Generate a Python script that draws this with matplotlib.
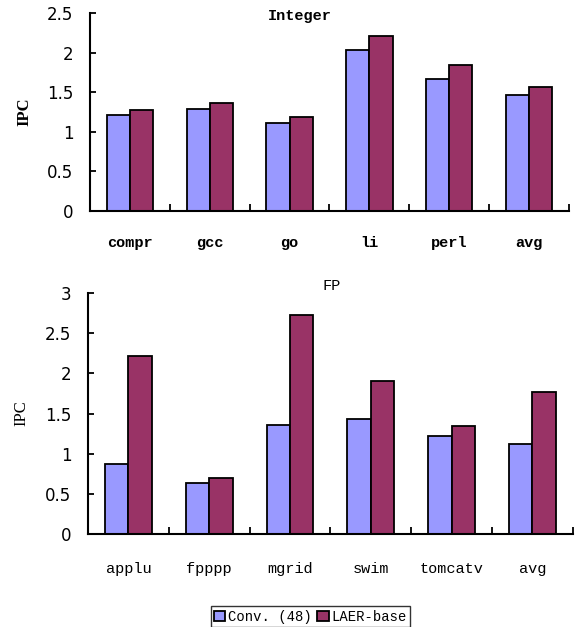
import matplotlib
matplotlib.use("Agg")
import matplotlib.pyplot as plt
import numpy as np

# integer benchmarks
int_names = ["compr", "gcc", "go", "li", "perl", "avg"]
int_conv = [1.21, 1.29, 1.11, 2.03, 1.67, 1.46]
int_laer = [1.27, 1.37, 1.19, 2.21, 1.85, 1.57]

# floating point benchmarks
fp_names = ["applu", "fpppp", "mgrid", "swim", "tomcatv", "avg"]
fp_conv = [0.87, 0.64, 1.36, 1.43, 1.22, 1.12]
fp_laer = [2.22, 0.70, 2.73, 1.90, 1.35, 1.77]

series_names = ["Conv. (48)", "LAER-base"]
colors = ["#9999FF", "#993366"]

plt.rcParams['font.family'] = ['Liberation Mono', 'DejaVu Sans']

fig = plt.figure(figsize=(5.77, 6.27), dpi=100)
ax1 = fig.add_axes([0.156, 0.6635, 0.83, 0.3155])
ax2 = fig.add_axes([0.1525, 0.148, 0.84, 0.385])

w = 0.29


def draw(ax, names, conv, laer, ymax, step, title, tx, ty, xpad, weight):
    x = np.arange(len(names))
    b1 = ax.bar(x - w / 2, conv, w, color=colors[0], edgecolor="black", linewidth=1.3)
    b2 = ax.bar(x + w / 2, laer, w, color=colors[1], edgecolor="black", linewidth=1.3)
    ax.set_xlim(-0.5, len(names) - 0.5)
    ax.set_ylim(0, ymax)
    ax.set_yticks(np.arange(0, ymax + 0.01, step))
    ax.set_yticklabels(["%g" % v for v in np.arange(0, ymax + 0.01, step)],
                       fontsize=12, family="DejaVu Sans")
    ax.set_xticks(x)
    ax.set_xticklabels(names, fontsize=11, fontweight=weight)
    ax.set_xticks(np.arange(0.5, len(names)), minor=True)
    ax.tick_params(axis="x", which="major", length=0, pad=xpad)
    ax.tick_params(axis="x", which="minor", direction="in", length=5, width=1.3)
    ax.tick_params(axis="y", direction="in", length=4, width=1.3, pad=12)
    for s in ["top", "right"]:
        ax.spines[s].set_visible(False)
    for s in ["left", "bottom"]:
        ax.spines[s].set_linewidth(1.5)
    ax.set_ylabel("IPC", fontsize=12, family="Liberation Serif", fontweight=weight)
    ax.yaxis.set_label_coords(-0.12, 0.5)
    ax.text(tx, ty, title, fontsize=11, fontweight=weight, ha="center", va="center",
            clip_on=False)
    return b1, b2


draw(ax1, int_names, int_conv, int_laer, 2.5, 0.5, "Integer", 2.13, 2.47, 18, "bold")
b1, b2 = draw(ax2, fp_names, fp_conv, fp_laer, 3.0, 0.5, "FP", 2.52, 3.08, 20, "normal")

leg = fig.legend([b1, b2], series_names, loc="lower center", bbox_to_anchor=(0.538, -0.005),
                 ncol=2, fontsize=10, frameon=True, fancybox=False, handlelength=0.8,
                 handleheight=0.8, handletextpad=0.2, columnspacing=0.4, borderpad=0.25,
                 borderaxespad=0.2)
leg.get_frame().set_edgecolor("black")
leg.get_frame().set_linewidth(1.0)

fig.savefig("out.png", dpi=100)
plt.close()
